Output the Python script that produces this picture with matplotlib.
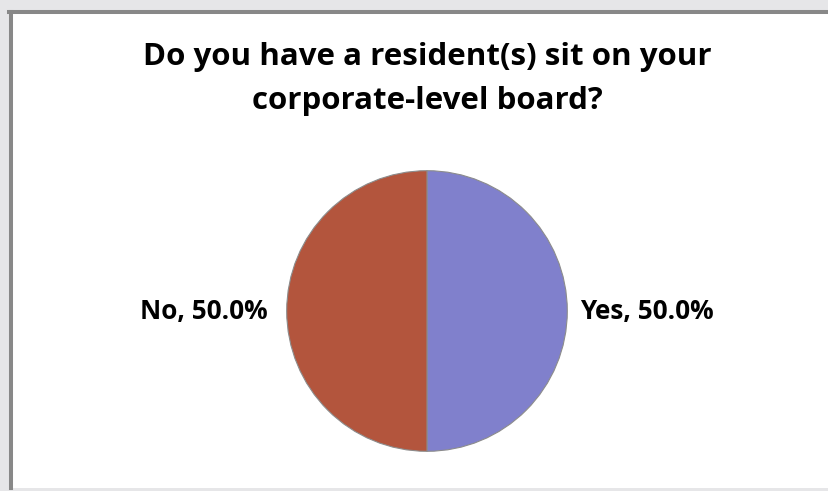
import matplotlib
matplotlib.use("Agg")
import matplotlib.pyplot as plt
import matplotlib.patches as patches

labels = ["Yes", "No"]
shares = [50.0, 50.0]
colors = ["#8080CC", "#B3553D"]
title = "Do you have a resident(s) sit on your\ncorporate-level board?"

W, H = 829, 491
fig = plt.figure(figsize=(W / 100, H / 100), dpi=100)
fig.patch.set_facecolor("#E6E6E8")


def px(x, y):
    # pixel (from top-left) to figure fraction
    return x / W, 1 - y / H


# white chart area with grey frame on top and left
x0, y0 = px(11, 488)
fig.add_artist(patches.Rectangle((x0, y0), 1.2, (488 - 12) / H,
                                 transform=fig.transFigure, zorder=-5,
                                 facecolor="white", edgecolor="none"))
fig.add_artist(plt.Line2D([11 / W, 11 / W], [1 - 12 / H, 1 - 488 / H],
                          transform=fig.transFigure, color="#888888", lw=2.9,
                          zorder=-4))
fig.add_artist(plt.Line2D([9 / W, 1], [1 - 12 / H, 1 - 12 / H],
                          transform=fig.transFigure, color="#888888", lw=2.9,
                          zorder=-4))

fig.text(427 / W, 1 - 79 / H, title, ha="center", va="center",
         fontsize=22.5, fontweight="bold", family="Open Sans",
         linespacing=1.6)

r = 141
cx, cy = 427, 311
ax = fig.add_axes([(cx - r) / W, (H - cy - r) / H, 2 * r / W, 2 * r / H])
ax.patch.set_visible(False)
ax.pie(shares, colors=colors, startangle=90, counterclock=False,
       wedgeprops=dict(edgecolor="#8C8C8C", linewidth=0.8))
ax.set_xlim(-1.005, 1.005)
ax.set_ylim(-1.005, 1.005)
ax.set_aspect("equal")

for lab, val, xpos, ha in [(labels[0], shares[0], 580, "left"),
                           (labels[1], shares[1], 268, "right")]:
    fig.text(xpos / W, 1 - 311 / H, f"{lab}, {val:.1f}%", ha=ha, va="center",
             fontsize=18.8, fontweight="bold", family="Open Sans")

plt.savefig("out.png", dpi=100, facecolor=fig.get_facecolor())
